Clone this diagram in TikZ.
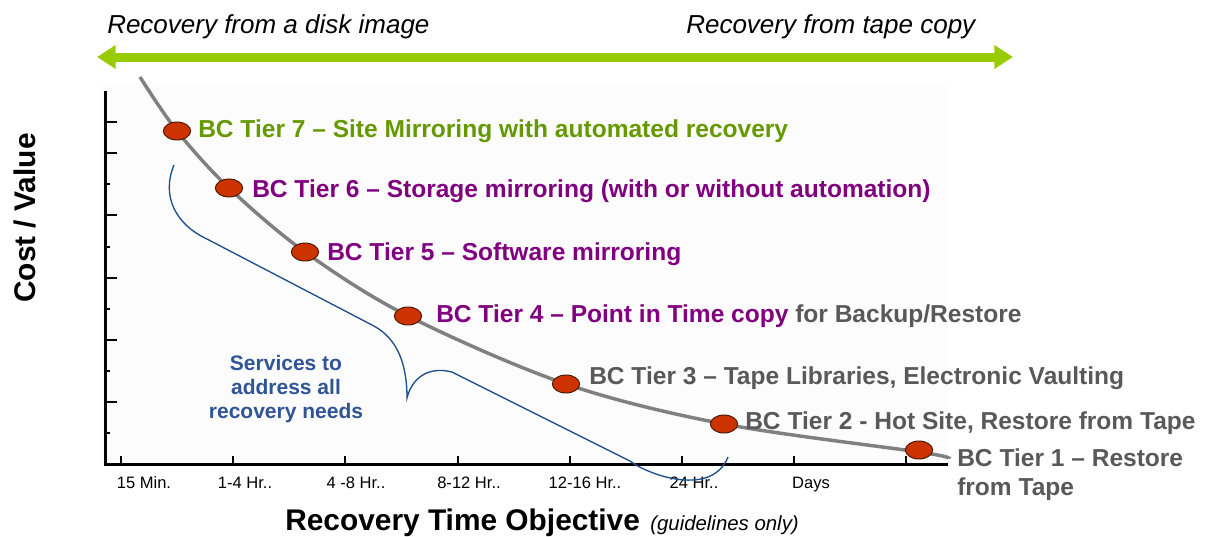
\documentclass[tikz,border=0pt]{standalone}
\usepackage{fontspec}
\setmainfont{Liberation Sans}
\usetikzlibrary{shapes.geometric,arrows.meta}
\definecolor{arrowgreen}{RGB}{153,204,0}
\definecolor{tiergreen}{RGB}{102,153,0}
\definecolor{tierpurple}{RGB}{128,0,128}
\definecolor{tiergray}{RGB}{89,89,89}
\definecolor{curvegray}{RGB}{128,128,128}
\definecolor{dotred}{RGB}{204,51,0}
\definecolor{dotedge}{RGB}{70,25,0}
\definecolor{bracblue}{RGB}{31,78,140}
\definecolor{svcblue}{RGB}{47,85,151}
\definecolor{panelbg}{RGB}{252,252,252}
\begin{document}
\begin{tikzpicture}[x=0.75pt,y=-0.75pt,
  tierlbl/.style={anchor=base west, inner sep=0pt, font=\bfseries\fontsize{18.4}{22}\selectfont},
  toplbl/.style={anchor=base west, inner sep=0pt, font=\itshape\fontsize{19.5}{23}\selectfont},
  xlbl/.style={anchor=base, inner sep=0pt, font=\fontsize{12.4}{15}\selectfont},
  axisline/.style={line width=2.25pt, black},
  longtick/.style={line width=1.6pt, black},
  dotnode/.style={ellipse, fill=dotred, draw=dotedge, line width=0.7pt, minimum width=20.5pt, minimum height=13.5pt, inner sep=0pt},
  curveline/.style={line width=2.6pt, curvegray},
  bracline/.style={line width=1pt, bracblue},
  greenarrow/.style={line width=6.75pt, arrowgreen, {Triangle[length=14pt,width=17pt]}-{Triangle[length=14pt,width=17pt]}}
]
\useasboundingbox (0,0) rectangle (1209,536);
\fill[panelbg] (100,85) rectangle (948,462);

% top arrow and texts
\coordinate (al) at (97,57);
\coordinate (ar) at (1013,57);
\draw[greenarrow] (al) -- (ar);
\node[toplbl] (tdisk) at (107,33) {Recovery from a disk image};
\node[toplbl] (ttape) at (686,33) {Recovery from tape copy};

% axes
\coordinate (yt) at (105,91);
\coordinate (org) at (105,464);
\coordinate (xe) at (948,464);
\draw[axisline] (yt) -- (105,465.1);
\draw[axisline] (103.9,464) -- (xe);
\foreach \yy in {122,153,215,278,340,402} \draw[longtick] (105,\yy) -- (117,\yy);
\foreach \yy in {184,247,309,371,433} \draw[longtick] (105,\yy) -- (110,\yy);
\foreach \xx in {121,233,345,458,570,682,794,906} \draw[longtick] (\xx,464) -- (\xx,456);

% x labels
\node[xlbl] (x1) at (144,488) {15 Min.};
\node[xlbl] (x2) at (245,488) {1-4 Hr..};
\node[xlbl] (x3) at (356,488) {4 -8 Hr..};
\node[xlbl] (x4) at (469,488) {8-12 Hr..};
\node[xlbl] (x5) at (585,488) {12-16 Hr..};
\node[xlbl] (x6) at (694,488) {24 Hr..};
\node[xlbl] (x7) at (811,488) {Days};

% axis titles
\node[anchor=base west, inner sep=0pt, font=\bfseries\fontsize{22.4}{26}\selectfont] (xtitle) at (285,530) {Recovery Time Objective};
\node[anchor=base west, inner sep=0pt, font=\itshape\fontsize{15.3}{18}\selectfont] (xsub) at (650,530) {(guidelines only)};
\node[rotate=90, anchor=base, inner sep=0pt, font=\bfseries\fontsize{22.4}{26}\selectfont] (ytitle) at (35,218) {Cost / Value};

% curve
\coordinate (c0) at (140,77);
\coordinate (p7) at (177,131);
\coordinate (p6) at (229,188);
\coordinate (p5) at (305,252);
\coordinate (p4) at (408,316);
\coordinate (p3) at (566,384);
\coordinate (p2) at (724,424);
\coordinate (p1) at (919,452);
\coordinate (c9) at (948,458);
\draw[curveline] plot[smooth, tension=0.55] coordinates {(c0) (p7) (p6) (p5) (p4) (p3) (p2) (p1) (c9)};

\node[dotnode] (d7) at (p7) {};
\node[dotnode] (d6) at (p6) {};
\node[dotnode] (d5) at (p5) {};
\node[dotnode] (d4) at (p4) {};
\node[dotnode] (d3) at (p3) {};
\node[dotnode] (d2) at (p2) {};
\node[dotnode] (d1) at (919,450) {};

% tier labels
\node[tierlbl, text=tiergreen] (l7) at (198,137) {BC Tier 7 – Site Mirroring with automated recovery};
\node[tierlbl, text=tierpurple] (l6) at (252,197) {BC Tier 6 – Storage mirroring (with or without automation)};
\node[tierlbl, text=tierpurple] (l5) at (327,260) {BC Tier 5 – Software mirroring};
\node[tierlbl, text=tierpurple] (l4) at (436,322) {BC Tier 4 – Point in Time copy \textcolor{tiergray}{for Backup/Restore}};
\node[tierlbl, text=tiergray] (l3) at (589,384) {BC Tier 3 – Tape Libraries, Electronic Vaulting};
\node[tierlbl, text=tiergray] (l2) at (745,429) {BC Tier 2 - Hot Site, Restore from Tape};
\node[tierlbl, text=tiergray] (l1) at (957,466) {BC Tier 1 – Restore};
\node[tierlbl, text=tiergray] (l1b) at (957,495) {from Tape};

% brace
\draw[bracline] (174,165) .. controls (161,196) and (176,224) .. (205,238)
  -- (372,325) .. controls (398,338) and (407,365) .. (407,398)
  .. controls (412,378) and (428,366) .. (452,372)
  -- (630,461) .. controls (650,476) and (712,497) .. (728,457);

\node[align=center, inner sep=0pt, text=svcblue, font=\bfseries\fontsize{15.75}{18}\selectfont] (svc) at (286,389) {Services to\\address all\\recovery needs};
\end{tikzpicture}
\end{document}
